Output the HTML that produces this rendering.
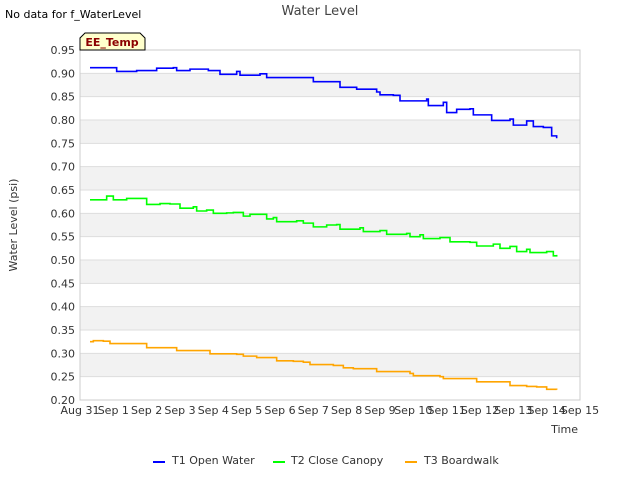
<!DOCTYPE html>
<html><head><meta charset="utf-8"><style>
body{margin:0;background:#fff;font-family:"Liberation Sans","DejaVu Sans",sans-serif;}
svg text{font-family:"DejaVu Sans","Liberation Sans",sans-serif;}
</style></head><body>
<svg id="chart" width="640" height="480" xmlns="http://www.w3.org/2000/svg">
<text x="5" y="18" font-size="11" fill="#000">No data for f_WaterLevel</text>
<text x="320" y="15" font-size="13" fill="#444" text-anchor="middle">Water Level</text>
<g id="bands"></g><g id="grid"></g><g id="yticks"></g><g id="xticks"></g><g id="series"></g>
<rect x="80" y="50" width="500" height="350" fill="none" stroke="#ccc"/>
<text x="17" y="225" font-size="11" fill="#333" text-anchor="middle" transform="rotate(-90 17 225)">Water Level (psi)</text>
<text x="578" y="433" font-size="11" fill="#333" text-anchor="end">Time</text>
<g>
<path d="M80,50 L80,38 L85,33 L140,33 L145,38 L145,50 Z" fill="#ffffcc" stroke="#000" stroke-width="1"/>
<text x="112" y="46" font-size="11" font-weight="bold" fill="#8b0000" text-anchor="middle">EE_Temp</text>
</g>
<g>
<g><line x1="153" y1="462" x2="165" y2="462" stroke="#0000ff" stroke-width="2"/><text x="172" y="464" font-size="11" fill="#333">T1 Open Water</text></g>
<g><line x1="273" y1="462" x2="285" y2="462" stroke="#00ff00" stroke-width="2"/><text x="291" y="464" font-size="11" fill="#333">T2 Close Canopy</text></g>
<g><line x1="405" y1="462" x2="417" y2="462" stroke="#ffa500" stroke-width="2"/><text x="424" y="464" font-size="11" fill="#333">T3 Boardwalk</text></g>
</g>
</svg>
<script>
const xLabels=["Aug 31","Sep 1","Sep 2","Sep 3","Sep 4","Sep 5","Sep 6","Sep 7","Sep 8","Sep 9","Sep 10","Sep 11","Sep 12","Sep 13","Sep 14","Sep 15"];
const yTicks=[0.20,0.25,0.30,0.35,0.40,0.45,0.50,0.55,0.60,0.65,0.70,0.75,0.80,0.85,0.90,0.95];
const t1Days=[0.30,0.80,1.10,1.70,2.30,2.80,2.90,3.30,3.85,4.20,4.70,4.80,5.40,5.60,6.50,7.00,7.80,8.30,8.90,9.00,9.40,9.60,10.40,10.45,10.80,10.90,11.00,11.30,11.70,11.80,12.25,12.35,12.90,13.00,13.40,13.60,13.90,14.10,14.15,14.30];
const t1Vals=[0.912,0.912,0.904,0.906,0.911,0.912,0.906,0.909,0.906,0.898,0.904,0.896,0.899,0.891,0.891,0.882,0.870,0.866,0.860,0.854,0.853,0.841,0.845,0.831,0.831,0.838,0.816,0.823,0.824,0.811,0.811,0.799,0.802,0.789,0.798,0.786,0.784,0.784,0.766,0.761];
const t2Days=[0.30,0.80,1.00,1.40,1.70,2.00,2.40,2.70,3.00,3.40,3.50,3.80,4.00,4.40,4.60,4.90,5.10,5.60,5.80,5.90,6.50,6.70,7.00,7.40,7.70,7.80,8.40,8.50,9.00,9.20,9.80,9.90,10.20,10.30,10.80,11.10,11.70,11.90,12.40,12.60,12.90,13.10,13.40,13.50,14.00,14.20,14.30];
const t2Vals=[0.629,0.637,0.629,0.632,0.632,0.619,0.621,0.620,0.611,0.614,0.605,0.607,0.600,0.601,0.602,0.594,0.598,0.588,0.591,0.582,0.584,0.579,0.571,0.575,0.576,0.566,0.569,0.561,0.563,0.555,0.557,0.550,0.554,0.546,0.548,0.539,0.538,0.530,0.534,0.525,0.529,0.518,0.523,0.516,0.518,0.509,0.511];
const t3Days=[0.30,0.40,0.70,0.90,1.70,2.00,2.70,2.90,3.70,3.90,4.70,4.90,5.30,5.70,5.90,6.40,6.70,6.90,7.40,7.60,7.90,8.20,8.70,8.90,9.60,9.90,10.00,10.50,10.80,10.90,11.60,11.90,12.70,12.90,13.40,13.70,14.00,14.30];
const t3Vals=[0.325,0.327,0.326,0.321,0.321,0.312,0.312,0.306,0.306,0.299,0.298,0.294,0.291,0.291,0.284,0.283,0.281,0.276,0.276,0.274,0.269,0.267,0.267,0.261,0.261,0.257,0.252,0.252,0.250,0.246,0.246,0.239,0.239,0.231,0.229,0.228,0.223,0.222];
const NS="http://www.w3.org/2000/svg";
const X0=80,X1=580,Y0=400,Y1=50,YMIN=0.20,YMAX=0.95;
const xScale=d=>X0+d*(X1-X0)/(xLabels.length-1);
const yScale=v=>Y0-(v-YMIN)*(Y0-Y1)/(YMAX-YMIN);
function mk(tag,attrs,parent){const e=document.createElementNS(NS,tag);for(const k in attrs)e.setAttribute(k,attrs[k]);parent.appendChild(e);return e;}
const bands=document.getElementById('bands'),grid=document.getElementById('grid'),yt=document.getElementById('yticks'),xt=document.getElementById('xticks'),ser=document.getElementById('series');
for(let i=0;i<yTicks.length-1;i++){
  if(i%2===1){const r=mk('rect',{x:X0,y:yScale(yTicks[i+1]),width:X1-X0,height:yScale(yTicks[i])-yScale(yTicks[i+1]),fill:'#f2f2f2'},bands);
  
  }
}
yTicks.forEach(v=>{
  const l=mk('line',{x1:X0,x2:X1,y1:yScale(v),y2:yScale(v),stroke:'#ddd'},grid);
  
  
  const t=mk('text',{x:X0-5,y:yScale(v)+4,'font-size':11,fill:'#333','text-anchor':'end'},yt);
  t.textContent=v.toFixed(2);
  
  
});
xLabels.forEach((s,i)=>{
  const t=mk('text',{x:xScale(i),y:414,'font-size':11,fill:'#333','text-anchor':'middle'},xt);
  t.textContent=s;
  
  
});
function drawStep(days,vals,color,name){
  let d='M'+xScale(days[0])+','+yScale(vals[0]);
  for(let i=1;i<days.length;i++){d+=' H'+xScale(days[i])+' V'+yScale(vals[i]);}
  const p=mk('path',{d:d,fill:'none',stroke:color,'stroke-width':1.6},ser);
  
  
}
drawStep(t1Days,t1Vals,'#0000ff','t1-open-water-line');
drawStep(t2Days,t2Vals,'#00ff00','t2-close-canopy-line');
drawStep(t3Days,t3Vals,'#ffa500','t3-boardwalk-line');
</script>
</body></html>
